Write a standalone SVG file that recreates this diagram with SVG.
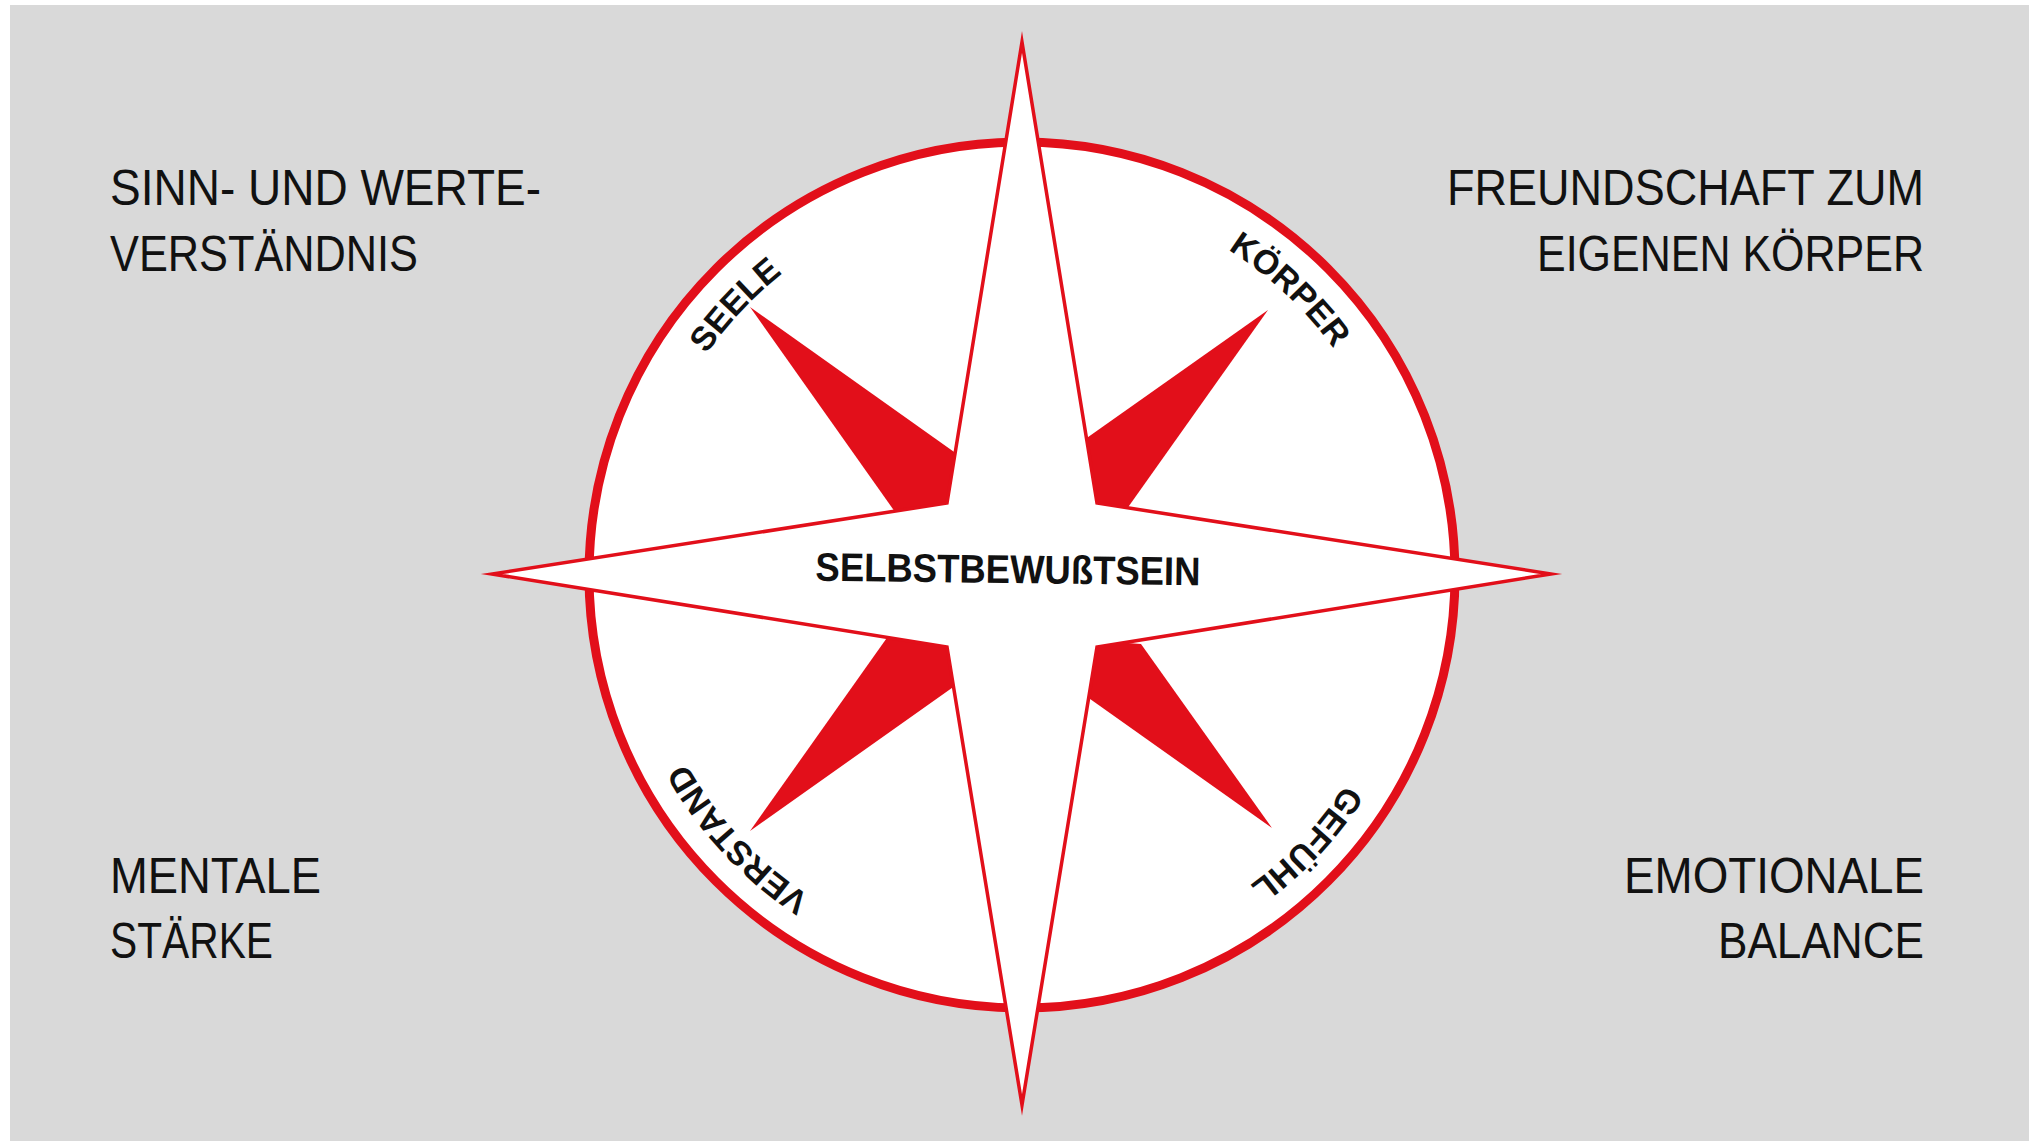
<svg xmlns="http://www.w3.org/2000/svg" xmlns:xlink="http://www.w3.org/1999/xlink" width="2029" height="1143" viewBox="0 0 2029 1143">
  <style>
    .corner { font-family: "Liberation Sans", Arial, sans-serif; font-size: 50px; fill: #111111; }
    .ring { font-family: "Liberation Sans", Arial, sans-serif; font-size: 34px; font-weight: bold; fill: #111111; }
    .center { font-family: "Liberation Sans", Arial, sans-serif; font-size: 40px; font-weight: bold; fill: #111111; }
    .red { fill: #e20f1a; }
  </style>
  <defs>
    <path id="ringPath" d="M 1407 575 A 385 385 0 1 1 637 575 A 385 385 0 1 1 1407 575"/>
  </defs>
  <rect x="0" y="0" width="2029" height="1143" fill="#ffffff"/>
  <rect x="10" y="5" width="2019" height="1136" fill="#d9d9d9"/>

  <g id="compass">
    <circle cx="1022" cy="575" r="433" fill="#ffffff" stroke="#e20f1a" stroke-width="9"/>
    <g id="diagonal-points">
      <polygon class="red" points="750,307 964,459 955,511 900,519"/>
      <polygon class="red" points="1268,310 1074,447 1089,511 1119,520"/>
      <polygon class="red" points="750,831 966,678 955,640 896,625"/>
      <polygon class="red" points="1272,828 1076,689 1089,640 1141,644"/>
    </g>
    <polygon id="star" points="1022,42 1097,503 1551,574 1097,647 1022,1105 947,647 492,574 947,503" fill="#ffffff" stroke="#e20f1a" stroke-width="3.5" stroke-linejoin="miter" stroke-miterlimit="10"/>
  </g>

  <g id="center-label">
    <text class="center" x="1008" y="583" text-anchor="middle" textLength="385" lengthAdjust="spacingAndGlyphs" transform="rotate(0.7 1008 570)">SELBSTBEWUßTSEIN</text>
  </g>

  <g id="ring-labels">
    <text class="ring"><textPath xlink:href="#ringPath" href="#ringPath" startOffset="1500" text-anchor="middle">SEELE</textPath></text>
    <text class="ring"><textPath xlink:href="#ringPath" href="#ringPath" startOffset="2104" text-anchor="middle">KÖRPER</textPath></text>
    <text class="ring"><textPath xlink:href="#ringPath" href="#ringPath" startOffset="291" text-anchor="middle">GEFÜHL</textPath></text>
    <text class="ring"><textPath xlink:href="#ringPath" href="#ringPath" startOffset="921" text-anchor="middle">VERSTAND</textPath></text>
  </g>

  <g id="node-top-left">
    <text class="corner" x="110" y="205" textLength="431" lengthAdjust="spacingAndGlyphs">SINN- UND WERTE-</text>
    <text class="corner" x="110" y="271" textLength="308" lengthAdjust="spacingAndGlyphs">VERSTÄNDNIS</text>
  </g>
  <g id="node-top-right">
    <text class="corner" x="1924" y="205" text-anchor="end" textLength="477" lengthAdjust="spacingAndGlyphs">FREUNDSCHAFT ZUM</text>
    <text class="corner" x="1924" y="271" text-anchor="end" textLength="387" lengthAdjust="spacingAndGlyphs">EIGENEN KÖRPER</text>
  </g>
  <g id="node-bottom-left">
    <text class="corner" x="110" y="893" textLength="211" lengthAdjust="spacingAndGlyphs">MENTALE</text>
    <text class="corner" x="110" y="958" textLength="163" lengthAdjust="spacingAndGlyphs">STÄRKE</text>
  </g>
  <g id="node-bottom-right">
    <text class="corner" x="1924" y="893" text-anchor="end" textLength="300" lengthAdjust="spacingAndGlyphs">EMOTIONALE</text>
    <text class="corner" x="1924" y="958" text-anchor="end" textLength="206" lengthAdjust="spacingAndGlyphs">BALANCE</text>
  </g>
  <g id="connectors"/>
</svg>
